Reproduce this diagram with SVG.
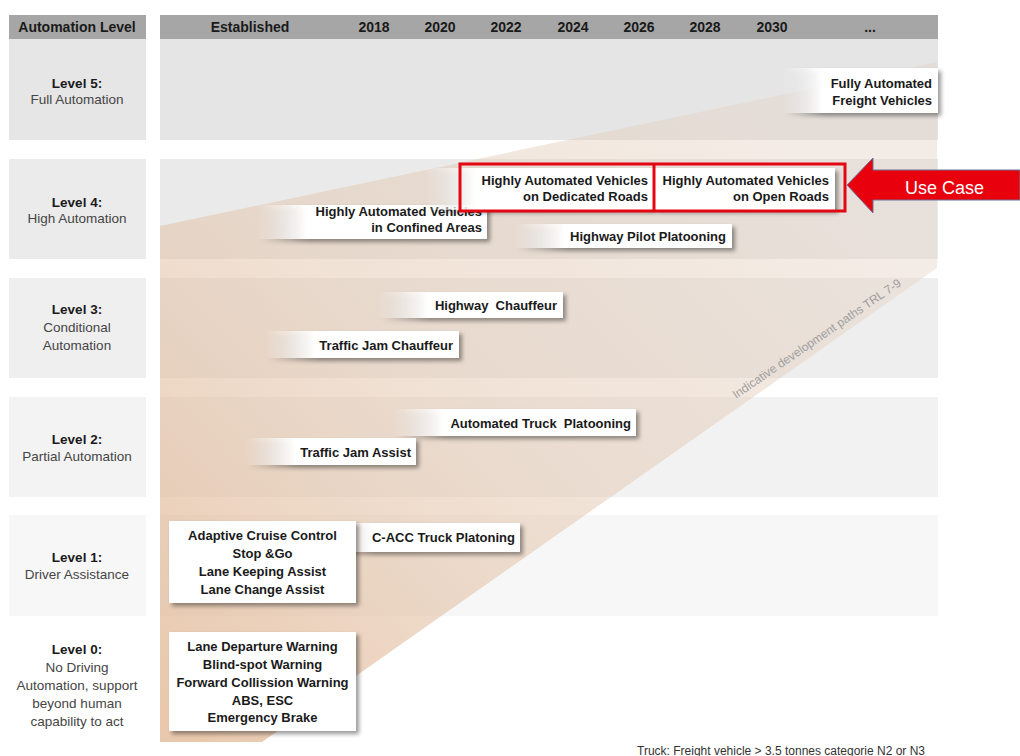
<svg xmlns="http://www.w3.org/2000/svg" width="1020" height="756" viewBox="0 0 1020 756">
<defs>
<style>
.hdr{font-family:"Liberation Sans",Arial,sans-serif;font-weight:bold;font-size:14px;fill:#1a1a1a;text-anchor:middle}
.lv{font-family:"Liberation Sans",Arial,sans-serif;font-size:13.5px;fill:#454545;text-anchor:middle}
.lvb{font-weight:bold;fill:#1a1a1a}
.bx{font-family:"Liberation Sans",Arial,sans-serif;font-weight:bold;font-size:13px;fill:#1a1a1a}
.r{text-anchor:end}
.c{text-anchor:middle}
.wb{fill:#ffffff}
.fade{fill:url(#fadeG)}
.sh{filter:url(#ds)}
</style>
<linearGradient id="fadeG" x1="0" y1="0" x2="1" y2="0">
<stop offset="0" stop-color="#ffffff" stop-opacity="0"/>
<stop offset="1" stop-color="#ffffff" stop-opacity="1"/>
</linearGradient>
<linearGradient id="wedgeG" gradientUnits="userSpaceOnUse" x1="200" y1="740" x2="820" y2="130">
<stop offset="0" stop-color="#e0b38e" stop-opacity="0.72"/>
<stop offset="0.45" stop-color="#e2c3a9" stop-opacity="0.5"/>
<stop offset="1" stop-color="#e4d3c5" stop-opacity="0.42"/>
</linearGradient>
<filter id="ds" x="-10%" y="-30%" width="130%" height="170%">
<feDropShadow dx="3" dy="3" stdDeviation="2" flood-color="#000" flood-opacity="0.4"/>
</filter>
</defs>

<g id="background">
<rect x="9" y="15" width="137" height="24" fill="#a6a6a6"/>
<rect x="160" y="15" width="778" height="24" fill="#a6a6a6"/>
<rect x="9" y="39" width="137" height="101" fill="#e6e6e6"/>
<rect x="160" y="39" width="778" height="101" fill="#e5e5e5"/>
<rect x="9" y="159" width="137" height="100" fill="#ebebeb"/>
<rect x="160" y="159" width="778" height="100" fill="#eaeaea"/>
<rect x="9" y="278" width="137" height="100" fill="#efefef"/>
<rect x="160" y="278" width="778" height="100" fill="#eeeeee"/>
<rect x="9" y="397" width="137" height="100" fill="#f3f3f3"/>
<rect x="160" y="397" width="778" height="100" fill="#f2f2f2"/>
<rect x="9" y="515" width="137" height="101" fill="#f7f7f7"/>
<rect x="160" y="515" width="778" height="101" fill="#f7f7f7"/>
</g>

<g id="wedge">
<polygon points="160,226 937,62 937,268 262,742 160,742" fill="url(#wedgeG)"/>
<text transform="translate(819,342) rotate(-34.5)" font-family="Liberation Sans, Arial, sans-serif" font-size="12" fill="#9e9e9e" text-anchor="middle">Indicative development paths TRL 7-9</text>
</g>

<g id="header">
<text class="hdr" x="77" y="32">Automation Level</text>
<text class="hdr" x="250" y="32">Established</text>
<text class="hdr" x="374" y="32">2018</text>
<text class="hdr" x="440" y="32">2020</text>
<text class="hdr" x="506" y="32">2022</text>
<text class="hdr" x="573" y="32">2024</text>
<text class="hdr" x="639" y="32">2026</text>
<text class="hdr" x="705" y="32">2028</text>
<text class="hdr" x="772" y="32">2030</text>
<text class="hdr" x="870" y="32">...</text>
</g>

<g id="levels">
<text class="lv lvb" x="77" y="88">Level 5:</text>
<text class="lv" x="77" y="104">Full Automation</text>
<text class="lv lvb" x="77" y="206.5">Level 4:</text>
<text class="lv" x="77" y="222.5">High Automation</text>
<text class="lv lvb" x="77" y="314">Level 3:</text>
<text class="lv" x="77" y="332">Conditional</text>
<text class="lv" x="77" y="350">Automation</text>
<text class="lv lvb" x="77" y="443.5">Level 2:</text>
<text class="lv" x="77" y="460.5">Partial Automation</text>
<text class="lv lvb" x="77" y="561.5">Level 1:</text>
<text class="lv" x="77" y="578.5">Driver Assistance</text>
<text class="lv lvb" x="77" y="653.5">Level 0:</text>
<text class="lv" x="77" y="671.5">No Driving</text>
<text class="lv" x="77" y="689.5">Automation, support</text>
<text class="lv" x="77" y="707.5">beyond human</text>
<text class="lv" x="77" y="725.5">capability to act</text>
</g>

<g id="node-fully-automated">
<g class="sh"><rect class="fade" x="782" y="68" width="40" height="45"/><rect class="wb" x="822" y="68" width="116" height="45"/></g>
<text class="bx r" x="932" y="87.5">Fully Automated</text>
<text class="bx r" x="932" y="104.5">Freight Vehicles</text>
</g>

<g id="node-confined-areas">
<g class="sh"><rect class="fade" x="257" y="205" width="50" height="34"/><rect class="wb" x="307" y="205" width="180" height="34"/></g>
<text class="bx r" x="482" y="215.5">Highly Automated Vehicles</text>
<text class="bx r" x="482" y="231.5">in Confined Areas</text>
</g>

<g id="node-dedicated-roads">
<g class="sh"><rect class="fade" x="425" y="168" width="50" height="42"/><rect class="wb" x="475" y="168" width="179" height="42"/></g>
<text class="bx r" x="648" y="185">Highly Automated Vehicles</text>
<text class="bx r" x="648" y="201">on Dedicated Roads</text>
</g>

<g id="node-open-roads">
<g class="sh"><rect class="wb" x="655" y="168" width="180" height="42"/></g>
<text class="bx r" x="829" y="185">Highly Automated Vehicles</text>
<text class="bx r" x="829" y="201">on Open Roads</text>
</g>

<g id="node-highway-pilot">
<g class="sh"><rect class="fade" x="514" y="224" width="50" height="24"/><rect class="wb" x="564" y="224" width="168" height="24"/></g>
<text class="bx r" x="726" y="241">Highway Pilot Platooning</text>
</g>

<g id="node-highway-chauffeur">
<g class="sh"><rect class="fade" x="378" y="292" width="50" height="26"/><rect class="wb" x="428" y="292" width="135" height="26"/></g>
<text class="bx r" x="557" y="309.5">Highway&#160; Chauffeur</text>
</g>

<g id="node-traffic-jam-chauffeur">
<g class="sh"><rect class="fade" x="265" y="331" width="50" height="27"/><rect class="wb" x="315" y="331" width="144" height="27"/></g>
<text class="bx r" x="453" y="349.5">Traffic Jam Chauffeur</text>
</g>

<g id="node-truck-platooning">
<g class="sh"><rect class="fade" x="393" y="409" width="50" height="27"/><rect class="wb" x="443" y="409" width="193" height="27"/></g>
<text class="bx r" x="631" y="427.5">Automated Truck&#160; Platooning</text>
</g>

<g id="node-traffic-jam-assist">
<g class="sh"><rect class="fade" x="245" y="438" width="50" height="27"/><rect class="wb" x="295" y="438" width="121" height="27"/></g>
<text class="bx r" x="411" y="456.5">Traffic Jam Assist</text>
</g>

<g id="node-cacc">
<g class="sh"><rect class="fade" x="322" y="523" width="50" height="29"/><rect class="wb" x="372" y="523" width="148" height="29"/></g>
<text class="bx r" x="515" y="542">C-ACC Truck Platoning</text>
</g>

<g id="node-level1-established">
<rect class="wb sh" x="169" y="521" width="187" height="82"/>
<text class="bx c" x="262.5" y="540">Adaptive Cruise Control</text>
<text class="bx c" x="262.5" y="558">Stop &amp;Go</text>
<text class="bx c" x="262.5" y="576">Lane Keeping Assist</text>
<text class="bx c" x="262.5" y="593.5">Lane Change Assist</text>
</g>

<g id="node-level0-established">
<rect class="wb sh" x="169" y="632" width="187" height="99"/>
<text class="bx c" x="262.5" y="650.5">Lane Departure Warning</text>
<text class="bx c" x="262.5" y="668.5">Blind-spot Warning</text>
<text class="bx c" x="262.5" y="686.5">Forward Collission Warning</text>
<text class="bx c" x="262.5" y="704.5">ABS, ESC</text>
<text class="bx c" x="262.5" y="722">Emergency Brake</text>
</g>

<g id="connectors">
<rect x="460" y="164" width="385" height="47" fill="none" stroke="#e30613" stroke-width="3"/>
<line x1="654" y1="164" x2="654" y2="211" stroke="#e30613" stroke-width="3"/>
</g>

<g id="node-use-case">
<polygon points="847,185 873,158 873,170 1020,170 1020,200 873,200 873,213" fill="#e8000d" stroke="#6b7396" stroke-width="1"/>
<text x="944.5" y="194" font-family="Liberation Sans, Arial, sans-serif" font-size="18" fill="#ffffff" text-anchor="middle">Use Case</text>
</g>

<g id="footnote">
<text x="637" y="755" font-family="Liberation Sans, Arial, sans-serif" font-size="12" fill="#333333">Truck: Freight vehicle &gt; 3.5 tonnes categorie N2 or N3</text>
</g>
</svg>
